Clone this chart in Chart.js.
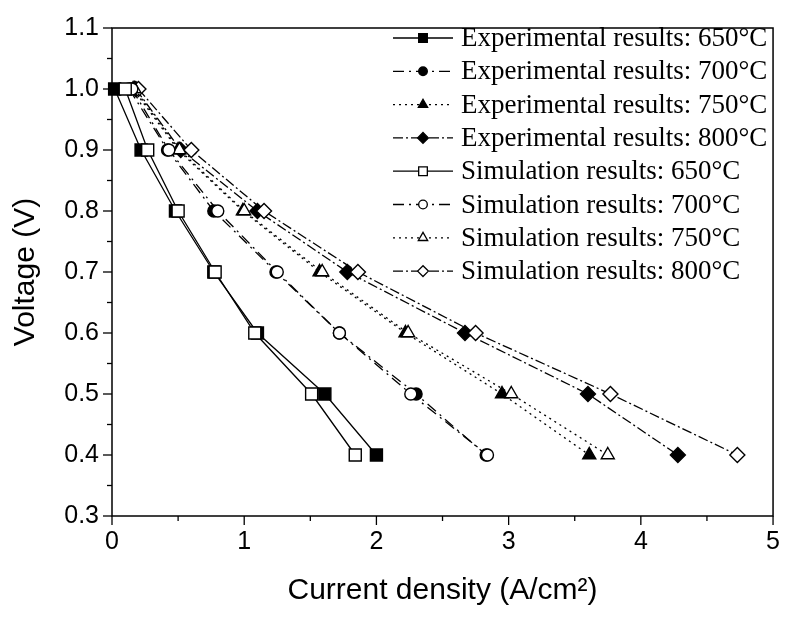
<!DOCTYPE html>
<html>
<head>
<meta charset="utf-8">
<script src="https://cdn.jsdelivr.net/npm/chart.js@4/dist/chart.umd.min.js"></script>
<style>
html, body { margin: 0; padding: 0; background: #fff; }
#wrap { width: 791px; height: 617px; }
</style>
</head>
<body>
<div id="wrap"><canvas id="grafico" width="791" height="617"></canvas></div>
<script>
// valores
const voltages = [1.0, 0.9, 0.8, 0.7, 0.6, 0.5, 0.4]

const exp650 = [0.02, 0.22, 0.48, 0.77, 1.10, 1.61, 2.00]
const exp700 = [0.13, 0.42, 0.77, 1.24, 1.72, 2.30, 2.83]
const exp750 = [0.16, 0.50, 0.99, 1.57, 2.22, 2.95, 3.61]
const exp800 = [0.18, 0.52, 1.10, 1.78, 2.67, 3.60, 4.28]
const sim650 = [0.10, 0.27, 0.50, 0.78, 1.08, 1.51, 1.84]
const sim700 = [0.15, 0.43, 0.80, 1.25, 1.72, 2.26, 2.84]
const sim750 = [0.17, 0.51, 1.00, 1.59, 2.24, 3.02, 3.75]
const sim800 = [0.20, 0.60, 1.15, 1.86, 2.75, 3.77, 4.73]

const seriesLabels = [
  'Experimental results: 650°C',
  'Experimental results: 700°C',
  'Experimental results: 750°C',
  'Experimental results: 800°C',
  'Simulation results: 650°C',
  'Simulation results: 700°C',
  'Simulation results: 750°C',
  'Simulation results: 800°C'
]
const seriesCurrents = [exp650, exp700, exp750, exp800, sim650, sim700, sim750, sim800]

const xTicks = [0, 1, 2, 3, 4, 5]
const yTicks = [0.3, 0.4, 0.5, 0.6, 0.7, 0.8, 0.9, 1.0, 1.1]

// estilos por temperatura
const dashes = [[], [11, 5, 2, 5], [2, 4], [10, 3, 2, 3]]
const markers = ['rect', 'circle', 'triangle', 'rectRot']
const radii = [8.5, 6, 7.5, 7.5]

function pontos(correntes){
  return correntes.map((c, i) => ({ x: c, y: voltages[i] }))
}

const datasets = seriesCurrents.map((s, i) => {
  const t = i % 4
  const filled = i < 4
  return {
    label: seriesLabels[i],
    data: pontos(s),
    order: filled ? 1 : 0,
    borderColor: '#000',
    borderWidth: 1.3,
    borderDash: dashes[t],
    pointStyle: markers[t],
    pointRadius: radii[t],
    pointBorderWidth: 1.4,
    pointBorderColor: '#000',
    pointBackgroundColor: filled ? '#000' : '#fff',
    tension: 0,
    clip: false
  }
})

// moldura e marcas dos eixos
const molduraPlugin = {
  id: 'moldura',
  afterDraw(chart){
    const ctx = chart.ctx
    const a = chart.chartArea
    const x = chart.scales.x
    const y = chart.scales.y
    ctx.save()
    ctx.strokeStyle = '#000'
    ctx.lineWidth = 1.5
    ctx.setLineDash([])
    ctx.strokeRect(a.left, a.top, a.right - a.left, a.bottom - a.top)
    ctx.lineWidth = 1.3
    for (let k = 0; k <= 10; k++) {
      const px = x.getPixelForValue(k * 0.5)
      const len = k % 2 === 0 ? 9 : 5
      ctx.beginPath(); ctx.moveTo(px, a.bottom); ctx.lineTo(px, a.bottom + len); ctx.stroke()
    }
    for (let k = 0; k <= 16; k++) {
      const py = y.getPixelForValue(0.3 + k * 0.05)
      const len = k % 2 === 0 ? 9 : 5
      ctx.beginPath(); ctx.moveTo(a.left - len, py); ctx.lineTo(a.left, py); ctx.stroke()
    }
    ctx.restore()
  }
}

// legenda desenhada à mão (linha + marcador + texto)
const legendaPlugin = {
  id: 'legenda',
  afterDraw(chart){
    const ctx = chart.ctx
    ctx.save()
    chart.data.datasets.forEach((ds, i) => {
      const yy = 38 + i * 33.3
      ctx.strokeStyle = '#000'
      ctx.lineWidth = 1.3
      ctx.setLineDash(ds.borderDash)
      ctx.beginPath(); ctx.moveTo(393, yy); ctx.lineTo(453, yy); ctx.stroke()
      ctx.setLineDash([])
      ctx.fillStyle = ds.pointBackgroundColor
      Chart.helpers.drawPoint(ctx, {
        pointStyle: ds.pointStyle,
        radius: ds.pointRadius * 0.72,
        borderWidth: 1.1,
        rotation: 0
      }, 423, yy)
      ctx.fillStyle = '#000'
      ctx.font = '27px "Liberation Serif", "Times New Roman", serif'
      ctx.textBaseline = 'middle'
      ctx.fillText(ds.label, 461, yy + 1)
    })
    ctx.restore()
  }
}

const ctx = document.getElementById('grafico')

const config = {
  type: 'line',
  data: { datasets: datasets },
  options: {
    responsive: false,
    animation: false,
    devicePixelRatio: 1,
    layout: { padding: { top: 23, right: 9, left: 0, bottom: 0 } },
    plugins: { legend: { display: false }, tooltip: { enabled: false } },
    scales: {
      x: {
        type: 'linear',
        min: 0,
        max: 5,
        afterBuildTicks: s => { s.ticks = xTicks.map(v => ({ value: v })) },
        afterFit: s => { s.height = 101 },
        ticks: {
          color: '#000',
          padding: 11,
          font: { family: '"Liberation Sans", Arial, sans-serif', size: 25 },
          callback: v => String(v)
        },
        grid: { display: false, drawTicks: false },
        border: { display: false },
        title: {
          display: true,
          text: 'Current density (A/cm²)',
          color: '#000',
          font: { family: '"Liberation Sans", Arial, sans-serif', size: 30 },
          padding: { top: 0, bottom: 8 }
        }
      },
      y: {
        type: 'linear',
        min: 0.3,
        max: 1.1,
        afterBuildTicks: s => { s.ticks = yTicks.map(v => ({ value: v })) },
        afterFit: s => { s.width = 112 },
        ticks: {
          color: '#000',
          padding: 13,
          font: { family: '"Liberation Sans", Arial, sans-serif', size: 25 },
          callback: v => v.toFixed(1)
        },
        grid: { display: false, drawTicks: false },
        border: { display: false },
        title: {
          display: true,
          text: 'Voltage (V)',
          color: '#000',
          font: { family: '"Liberation Sans", Arial, sans-serif', size: 30 },
          padding: { top: 8, bottom: 0 }
        }
      }
    }
  },
  plugins: [molduraPlugin, legendaPlugin]
}

const grafico = new Chart(ctx, config)
</script>
</body>
</html>
